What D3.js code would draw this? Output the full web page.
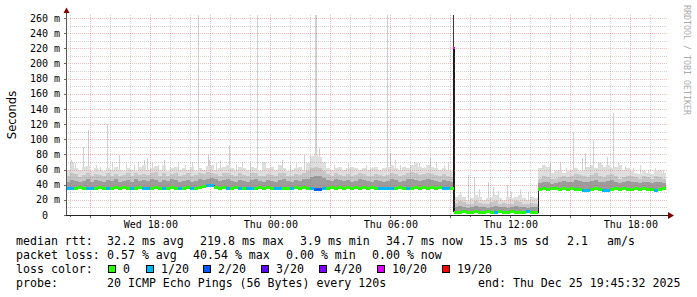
<!DOCTYPE html>
<html>
<head>
<meta charset="utf-8">
<script src="https://d3js.org/d3.v7.min.js"></script>
<style>
  body { margin: 0; background: #fff; }
  svg text { font-family: "DejaVu Sans Mono", monospace; fill: #000; }
</style>
</head>
<body>
<svg id="chart" width="697" height="297"></svg>
<script>
// 12 minute buckets from Wed Dec 24 13:45:32 to Thu Dec 25 19:45:32
var start = Date.UTC(2025, 11, 24, 13, 45, 32);
var stepMin = 12;

// median rtt per bucket (ms)
var median = [
  35,35,36,37,36,35,35,36,37,36, 35,36,37,36,37,36,35,36,37,35,
  35,36,37,36,35,36,37,36,35,36, 37,35,36,37,38,40,39,37,36,37,
  35,36,37,35,36,35,35,36,37,36, 37,36,35,35,36,35,36,37,36,37,
  36,35,34,34,35,36,37,36,37,36, 37,36,37,36,37,36,37,36,35,35,
  35,35,36,37,36,35,36,37,36,37, 36,37,36,37,35,35,36,
  4,4,5,4,4,5,4,4,5,4, 4,5,4,4,5,4,4,4,5,4, 4,
  34,35,34,35,35,34,35,34,35,34, 34,33,33,34,35,34,33,33,34,35,
  34,35,34,34,35,34,35,34,34,33, 34,35
];
// lost pings out of 20 per bucket
var loss = [
  1,1,0,0,0,1,1,0,0,0, 1,0,0,0,0,0,1,0,0,1,
  1,0,0,0,1,0,0,0,1,0, 0,1,0,0,0,1,1,0,0,0,
  1,0,0,1,0,1,1,0,0,0, 0,0,1,1,0,0,1,0,0,0,
  0,1,2,2,1,0,0,0,0,0, 0,0,0,0,0,0,0,0,1,1,
  1,1,0,0,0,1,0,0,0,0, 0,0,0,0,1,1,0,
  0,0,0,0,0,0,0,0,0,0, 1,0,0,0,0,0,0,0,1,0, 0,
  0,0,0,0,0,0,0,0,0,0, 0,1,1,0,0,0,1,1,0,0,
  0,0,0,0,0,0,0,0,0,1, 0,0
];
// smoke: upper edges of the dark, mid and light bands (ms)
var p75 = [
  44,46,45,43,45,47,44,46,45,44, 46,45,47,44,45,46,44,47,45,46,
  45,47,46,44,46,45,47,46,44,45, 46,44,45,47,46,48,49,47,45,46,
  47,45,44,46,45,44,46,47,45,44, 46,45,44,46,47,45,44,46,45,47,
  48,50,52,51,49,46,45,47,46,45, 46,44,45,47,46,45,44,46,45,44,
  45,47,46,44,45,47,48,46,45,46, 47,46,45,44,46,45,44,
  10,12,11,9,10,12,11,10,9,11, 12,10,11,9,10,12,11,10,9,11, 10,
  42,44,43,41,42,44,45,43,44,46, 45,44,43,45,46,44,43,45,46,44,
  42,43,45,44,43,42,44,43,42,44, 43,42
];
var p90 = [
  52,56,54,50,53,55,51,54,53,51, 55,52,54,51,53,55,52,56,53,54,
  53,55,57,52,55,51,54,56,52,53, 55,51,53,56,54,57,56,54,52,55,
  56,53,51,55,53,52,55,56,52,51, 54,53,51,55,56,52,51,54,53,55,
  58,62,64,62,58,54,52,55,53,52, 54,51,53,55,54,52,51,54,53,51,
  53,55,54,51,53,56,57,55,53,54, 56,54,53,51,54,52,50,
  16,18,17,14,15,18,16,15,14,17, 18,15,16,14,15,18,17,15,14,16, 15,
  48,52,50,47,48,50,52,50,52,54, 53,52,50,53,55,52,50,53,54,52,
  48,50,52,51,50,48,51,50,48,52, 50,48
];
var smokeTop = [
  60,70,62,60,64,65,58,62,60,58, 62,60,64,60,58,62,60,58,64,66,
  60,62,65,60,66,58,62,64,60,62, 60,64,58,62,60,65,66,60,62,64,
  66,62,60,64,62,60,64,62,58,70, 62,64,60,66,62,58,60,62,64,60,
  68,78,80,76,70,62,60,62,64,60, 62,64,62,60,62,60,62,64,60,62,
  64,66,62,60,64,62,66,68,64,62, 66,64,62,60,62,60,58,
  24,26,24,20,22,26,24,20,22,24, 26,22,20,24,22,24,26,22,20,24, 22,
  62,66,64,56,58,60,56,58,60,62, 58,60,64,66,62,68,64,66,62,64,
  66,60,62,58,56,54,58,56,54,58, 60,56
];
// single-ping outliers: minutes after start, value (ms)
var spikeMin = [15,51,66,123,159,234,243,294,396,426,429,489,573,648,714,738,747,750,759,774,
                873,963,972,1044,1059,1092,1206,1224,1266,1281,1323,1452,1482,1521,1548,1557,1581,1623,1641,1677,1791];
var spikeMs  = [72,90,112,120,79,72,75,72,300,79,72,92,300,72,79,77,300,300,88,70,
                59,300,82,70,68,75,53,50,44,37,40,68,70,110,75,82,99,77,134,64,59];
// thinner streaks in the light smoke
var streakMin = [18,30,90,102,138,180,204,216,258,276,312,336,357,378,450,462,510,528,552,594,612,672,690,
                 804,822,846,900,918,987,1002,1074,1110,1134,1146,1182,1242,1296,1338,1362,1386,
                 1437,1500,1596,1608,1656,1701,1722,1746,1767];
var streakMs  = [65,68,66,64,70,68,66,70,70,66,64,68,66,70,68,72,66,70,68,66,64,66,68,
                 66,64,68,66,64,72,66,64,70,66,68,30,34,32,30,34,30,
                 64,62,70,66,68,62,66,60,62];
// the 09:09 outage step
var outageMin = 1161, outageMedian = 219.8, outageLoss = 10, outageTop = 300;

var yTicks = [0,20,40,60,80,100,120,140,160,180,200,220,240,260];
var lossSteps  = [0, 1, 2, 3, 4, 10, 19];
var lossColors = ["#26ff00","#00b8ff","#0059ff","#5e00ff","#7e00ff","#dd00ff","#ff0000"];
var lossNames  = ["0","1/20","2/20","3/20","4/20","10/20","19/20"];

var rttRow  = ["median rtt:","32.2 ms avg","219.8 ms max","3.9 ms min","34.7 ms now","15.3 ms sd","2.1","am/s"];
var lossRow = ["packet loss:","0.57 % avg","40.54 % max","0.00 % min","0.00 % now"];
var probeRow = ["probe:","20 ICMP Echo Pings (56 Bytes) every 120s","end: Thu Dec 25 19:45:32 2025"];

// layout
var rttX = [16,107,200,300,386,479,567,607];
var lossX = [16,107,193,286,372];
var probeX = [16,107,478];
var swatchX = [108,146,203,261,319,377,442];

var svg = d3.select("#chart");
var plotL = 66, plotR = 666, plotT = 15, plotB = 215;

var x = d3.scaleUtc()
  .domain([new Date(start), new Date(start + 30 * 3600e3)])
  .range([plotL, plotR]);
var y = d3.scaleLinear().domain([0, 264]).range([plotB, plotT]);
function at(min) { return new Date(start + min * 60e3); }
function lossColor(n) {
  var c = lossColors[0];
  lossSteps.forEach(function(s, i) { if (n >= s) c = lossColors[i]; });
  return c;
}

svg.append("defs").append("clipPath").attr("id", "plot")
  .append("rect").attr("x", plotL).attr("y", plotT).attr("width", plotR - plotL).attr("height", plotB - plotT);

var g = svg.append("g").attr("clip-path", "url(#plot)").attr("shape-rendering", "crispEdges");

// outliers and streaks behind the smoke
function lines(mins, vals, color) {
  g.selectAll(null).data(mins).enter().append("rect")
    .attr("x", function(d) { return Math.floor(x(at(d))); })
    .attr("width", 1)
    .attr("y", function(d, i) { return y(vals[i]); })
    .attr("height", function(d, i) { return Math.max(0, y(median[Math.floor(d / stepMin)]) - y(vals[i])); })
    .attr("fill", color);
}
lines(spikeMin, spikeMs, "#d0d0d0");
lines(streakMin, streakMs, "#d6d6d6");

var bands = [[smokeTop, "#dedede"], [p90, "#c6c6c6"], [p75, "#9c9c9c"]];
bands.forEach(function(b) {
  g.selectAll(null).data(b[0]).enter().append("rect")
    .attr("x", function(d, i) { return x(at(i * stepMin)); })
    .attr("width", function(d, i) { return x(at((i + 1) * stepMin)) - x(at(i * stepMin)); })
    .attr("y", function(d) { return y(d); })
    .attr("height", function(d, i) { return y(median[i]) - y(d); })
    .attr("fill", b[1]);
});

// outage column
var ox = Math.floor(x(at(outageMin)));
g.append("rect").attr("x", ox).attr("width", 1).attr("y", y(outageTop))
  .attr("height", y(outageMedian) - y(outageTop)).attr("fill", "#3a3a3a");
g.append("rect").attr("x", ox).attr("width", 2).attr("y", y(outageMedian))
  .attr("height", y(median[97]) - y(outageMedian)).attr("fill", "#1c1c1c");

// median: thin dark step line, then loss-coloured blocks
var pts = median.map(function(v, i) { return [i * stepMin, v]; });
pts.splice(97, 0, [outageMin, outageMedian]);
pts.push([median.length * stepMin, median[median.length - 1]]);
g.append("path")
  .attr("d", d3.line().curve(d3.curveStepAfter)
    .x(function(d) { return x(at(d[0])); })
    .y(function(d) { return Math.round(y(d[1])) + 0.5; })(pts))
  .attr("fill", "none").attr("stroke", "#1c1c1c").attr("stroke-width", 1);

g.selectAll(".med").data(median).enter().append("rect")
  .attr("x", function(d, i) { return x(at(i * stepMin)); })
  .attr("width", function(d, i) { return x(at((i + 1) * stepMin)) - x(at(i * stepMin)); })
  .attr("y", function(d) { return Math.round(y(d)) - 1; })
  .attr("height", 3)
  .attr("fill", function(d, i) { return lossColor(loss[i]); });

g.append("rect").attr("x", ox).attr("width", 2).attr("y", Math.round(y(outageMedian)) - 1)
  .attr("height", 2).attr("fill", lossColor(outageLoss));

// grid on top, dotted
var minorC = "rgba(130,130,130,0.35)", majorC = "rgba(230,90,90,0.4)";
var grid = svg.append("g").attr("shape-rendering", "crispEdges");
var minorY = d3.range(10, 264, 20);
grid.selectAll(".gy").data(minorY).enter().append("line")
  .attr("x1", plotL).attr("x2", plotR + 2)
  .attr("y1", function(d) { return Math.round(y(d)) + 0.5; })
  .attr("y2", function(d) { return Math.round(y(d)) + 0.5; })
  .attr("stroke", minorC).attr("stroke-dasharray", "1,1");
var hours = d3.utcHour.range(x.domain()[0], x.domain()[1]);
grid.selectAll(".gx").data(hours).enter().append("line")
  .attr("x1", function(d) { return Math.floor(x(d)) + 0.5; })
  .attr("x2", function(d) { return Math.floor(x(d)) + 0.5; })
  .attr("y1", plotT).attr("y2", plotB)
  .attr("stroke", function(d) { return d.getUTCHours() % 3 === 0 ? majorC : minorC; })
  .attr("stroke-dasharray", "1,1");
grid.selectAll(".my").data(yTicks.slice(1)).enter().append("line")
  .attr("x1", plotL).attr("x2", plotR + 2)
  .attr("y1", function(d) { return Math.round(y(d)) + 0.5; })
  .attr("y2", function(d) { return Math.round(y(d)) + 0.5; })
  .attr("stroke", majorC).attr("stroke-dasharray", "1,1");

// ticks and axes
grid.selectAll(".ty").data(yTicks).enter().append("line")
  .attr("x1", plotL - 2).attr("x2", plotL)
  .attr("y1", function(d) { return Math.round(y(d)) + 0.5; })
  .attr("y2", function(d) { return Math.round(y(d)) + 0.5; })
  .attr("stroke", "#666");
grid.selectAll(".tx").data(hours).enter().append("line")
  .attr("x1", function(d) { return Math.floor(x(d)) + 0.5; })
  .attr("x2", function(d) { return Math.floor(x(d)) + 0.5; })
  .attr("y1", plotB).attr("y2", function(d) { return d.getUTCHours() % 3 === 0 ? plotB + 3 : plotB + 2; })
  .attr("stroke", "#666");

grid.append("line").attr("x1", plotL + 0.5).attr("x2", plotL + 0.5).attr("y1", plotB + 1).attr("y2", 12)
  .attr("stroke", "#555");
grid.append("line").attr("x1", plotL).attr("x2", 669).attr("y1", plotB + 0.5).attr("y2", plotB + 0.5)
  .attr("stroke", "#222");
svg.append("path").attr("d", "M63.5,13 L66.5,7.5 L69.5,13 Z").attr("fill", "#7f0000");
svg.append("path").attr("d", "M668,212 L674,215.5 L668,219 Z").attr("fill", "#7f0000");

// axis labels
svg.selectAll(".yl").data(yTicks).enter().append("text")
  .attr("x", function(d) { return d ? 60 : 48; })
  .attr("y", function(d) { return y(d) + 3.6; })
  .attr("text-anchor", "end").style("font-size", "10px")
  .text(function(d) { return d ? d + " m" : "0"; });

var fmt = d3.utcFormat("%a %H:%M");
svg.selectAll(".xl").data(hours.filter(function(d) { return d.getUTCHours() % 6 === 0; }))
  .enter().append("text")
  .attr("x", function(d) { return x(d); })
  .attr("y", 228)
  .attr("text-anchor", "middle").style("font-size", "10px")
  .text(function(d) { return fmt(d); });

svg.append("text")
  .attr("transform", "translate(15.5," + ((plotT + plotB) / 2) + ") rotate(-90)")
  .attr("text-anchor", "middle")
  .style("font-family", "'DejaVu Sans', sans-serif").style("font-size", "11.5px")
  .text("Seconds");

svg.append("text")
  .attr("transform", "translate(683.5,5) rotate(90)")
  .style("font-size", "8.3px").style("fill", "#ababab")
  .text("RRDTOOL / TOBI OETIKER");

// legend
function row(texts, xs, baseline) {
  texts.forEach(function(t, i) {
    svg.append("text").attr("x", xs[i]).attr("y", baseline)
      .style("font-size", "11.6px").style("white-space", "pre").text(t);
  });
}
row(rttRow, rttX, 244.5);
row(lossRow, lossX, 258.7);
row(["loss color:"], [16], 272.9);
lossNames.forEach(function(n, i) {
  svg.append("rect").attr("x", swatchX[i] + 0.5).attr("y", 265.5).attr("width", 7).attr("height", 7)
    .attr("fill", lossColors[i]).attr("stroke", "#000").attr("shape-rendering", "crispEdges");
  svg.append("text").attr("x", swatchX[i] + 15).attr("y", 272.9)
    .style("font-size", "11.6px").text(n);
});
row(probeRow, probeX, 287);
</script>
</body>
</html>
